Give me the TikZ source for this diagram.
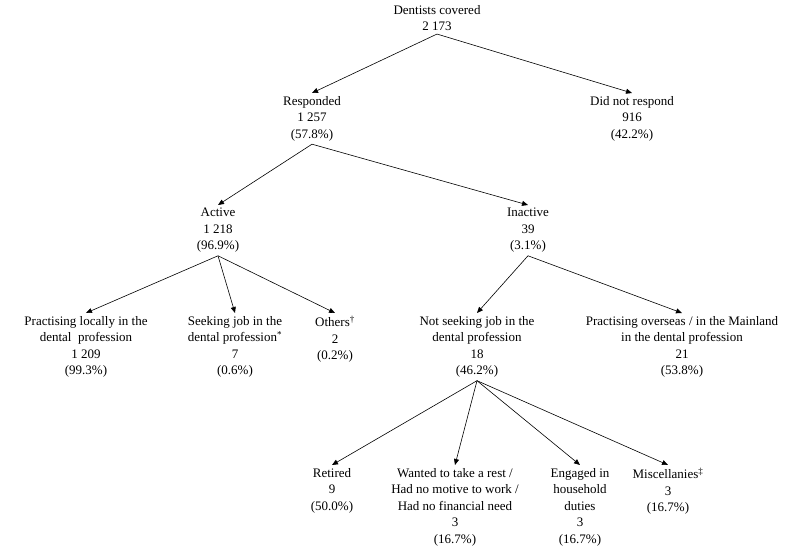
\documentclass[tikz,border=0pt]{standalone}
\usepackage{fontspec}
\setmainfont{Liberation Serif}
\usetikzlibrary{arrows.meta}
\begin{document}
\begin{tikzpicture}[x=1pt,y=-1pt,
  box/.style={align=center,anchor=north,inner sep=3pt,font=\fontsize{13}{16.5}\selectfont},
  arr/.style={-{Triangle[length=6pt,width=5pt]},line width=0.6pt}]
\useasboundingbox (0,0) rectangle (800,552);
\node[box] (top) at (437,2) {Dentists covered\\2 173};
\node[box] (resp) at (312,93) {Responded\\1 257\\(57.8\%)};
\node[box] (nores) at (632,93) {Did not respond\\916\\(42.2\%)};
\node[box] (act) at (218,205) {Active\\1 218\\(96.9\%)};
\node[box] (inact) at (528,205) {Inactive\\39\\(3.1\%)};
\node[box] (loc) at (86,313) {Practising locally in the\\dental\ \ profession\\1 209\\(99.3\%)};
\node[box] (seek) at (235,313) {Seeking job in the\\dental profession\textsuperscript{*}\\7\\(0.6\%)};
\node[box] (oth) at (335,313) {Others\textsuperscript{\textdagger}\\2\\(0.2\%)};
\node[box] (nots) at (477,313) {Not seeking job in the\\dental profession\\18\\(46.2\%)};
\node[box] (over) at (682,313) {Practising overseas / in the Mainland\\in the dental profession\\21\\(53.8\%)};
\node[box] (ret) at (332,465) {Retired\\9\\(50.0\%)};
\node[box] (want) at (455,465) {Wanted to take a rest /\\Had no motive to work /\\Had no financial need\\3\\(16.7\%)};
\node[box] (eng) at (580,465) {Engaged in\\household\\duties\\3\\(16.7\%)};
\node[box] (misc) at (668,465) {Miscellanies\textsuperscript{\textdaggerdbl}\\3\\(16.7\%)};
\draw[arr] (top.south) -- (resp.north);
\draw[arr] (top.south) -- (nores.north);
\draw[arr] (resp.south) -- (act.north);
\draw[arr] (resp.south) -- (inact.north);
\draw[arr] (act.south) -- (loc.north);
\draw[arr] (act.south) -- (seek.north);
\draw[arr] (act.south) -- (oth.north);
\draw[arr] (inact.south) -- (nots.north);
\draw[arr] (inact.south) -- (over.north);
\draw[arr] (nots.south) -- (ret.north);
\draw[arr] (nots.south) -- (want.north);
\draw[arr] (nots.south) -- (eng.north);
\draw[arr] (nots.south) -- (misc.north);
\end{tikzpicture}
\end{document}
